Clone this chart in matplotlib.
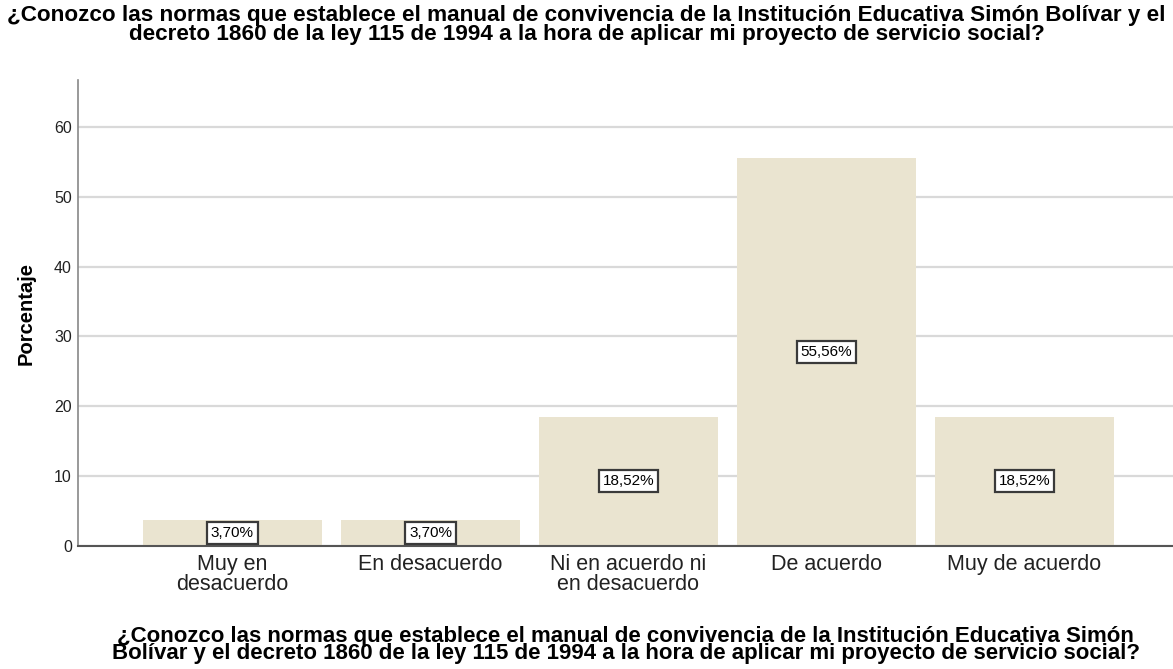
import matplotlib
matplotlib.use("Agg")
import matplotlib.pyplot as plt
import numpy as np

# ── Data ──────────────────────────────────────────────────────────────────────
categories = ["Muy en\ndesacuerdo", "En desacuerdo", "Ni en acuerdo ni\nen desacuerdo",
              "De acuerdo", "Muy de acuerdo"]
percentages = [3.70, 3.70, 18.52, 55.56, 18.52]
yticks = [0, 10, 20, 30, 40, 50, 60]

question = ("¿Conozco las normas que establece el manual de convivencia de la Institución "
            "Educativa Simón Bolívar y el\ndecreto 1860 de la ley 115 de 1994 a la hora de "
            "aplicar mi proyecto de servicio social?")
xlabel_text = ("¿Conozco las normas que establece el manual de convivencia de la Institución "
               "Educativa Simón\nBolívar y el decreto 1860 de la ley 115 de 1994 a la hora de "
               "aplicar mi proyecto de servicio social?")

plt.rcParams['font.family'] = ['Liberation Sans', 'DejaVu Sans']

# SPSS-like palette
_BAR = '#EAE4D0'
_GRID = '#D9D9D9'

fig = plt.figure(figsize=(11.73, 6.69), dpi=100)
ax = fig.add_axes([0.0665, 0.184, 0.9335, 0.696])

x = np.arange(len(categories))
ax.bar(x, percentages, width=0.9, color=_BAR, zorder=2)

# value labels in white boxes at half bar height
for xi, v in zip(x, percentages):
    ax.text(xi, v / 2, f"{v:.2f}%".replace(".", ","), ha="center", va="center",
            fontsize=11, zorder=3,
            bbox=dict(boxstyle="square,pad=0.27", facecolor="white",
                      edgecolor="#3a3a3a", linewidth=1.6))

ax.set_xlim(-0.78, 4.75)
ax.set_ylim(0, 66.7)
ax.set_yticks(yticks)
ax.set_xticks(x)
ax.set_xticklabels(categories, fontsize=15.5, linespacing=0.92)
ax.tick_params(axis="y", labelsize=11.5, length=0, pad=4.5, labelcolor="#222222")
ax.tick_params(axis="x", length=0, pad=6, labelcolor="#222222")
ax.yaxis.grid(True, color=_GRID, linewidth=1.6, zorder=0)
ax.set_axisbelow(True)

for side in ("top", "right"):
    ax.spines[side].set_visible(False)
ax.spines["left"].set_color("#888888")
ax.spines["left"].set_linewidth(1.2)
ax.spines["bottom"].set_color("#555555")
ax.spines["bottom"].set_linewidth(1.5)

ax.set_ylabel("Porcentaje", fontsize=14.5, fontweight="bold", labelpad=13)
ax.set_xlabel(xlabel_text, fontsize=16, fontweight="bold", labelpad=22, linespacing=0.8)
fig.suptitle(question, fontsize=16.2, fontweight="bold", y=0.992, va="top", linespacing=0.85)

fig.savefig("out.png", dpi=100, facecolor="white")
plt.close(fig)
